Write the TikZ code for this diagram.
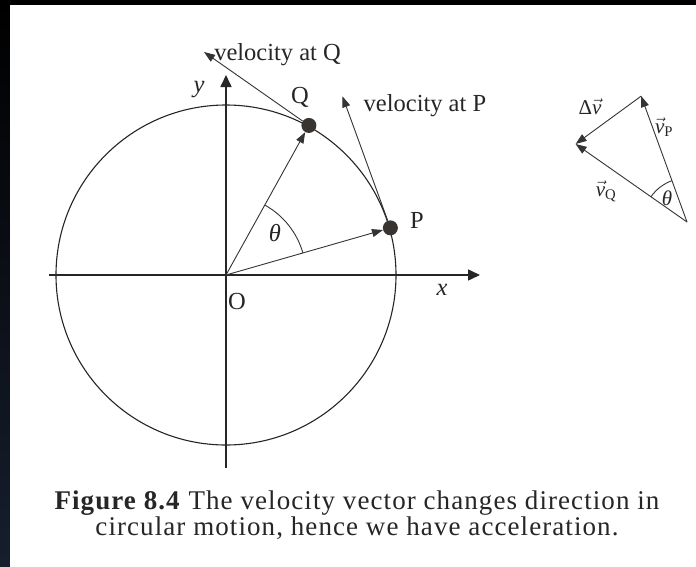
\documentclass[tikz,border=0pt]{standalone}
\usepackage{fontspec}
\setmainfont{Liberation Serif}
\usepackage{amsmath}
\definecolor{Inkgray}{RGB}{52,52,52}
\definecolor{Dotcolor}{RGB}{58,52,48}
\definecolor{Framenavy}{RGB}{22,30,45}
\usetikzlibrary{arrows.meta, positioning}

\begin{document}
\begin{tikzpicture}[
  x=1pt, y=1pt,
  font=\fontsize{24.5}{26}\selectfont,
  axis/.style={-{Triangle[length=12pt, width=11pt]}, line width=1.6pt, draw=black!85},
  vec/.style={-{Triangle[length=11pt, width=8pt]}, line width=0.9pt, draw=Inkgray},
  dot/.style={circle, fill=Dotcolor, inner sep=0pt, minimum size=15pt},
  lbl/.style={inner sep=1pt, text=black!85},
  small/.style={inner sep=1pt, text=black!85, font=\fontsize{21}{22}\selectfont},
  figcap/.style={inner sep=0pt, text=black!85,
              font=\fontsize{27}{26}\selectfont\addfontfeature{LetterSpace=4}}
]

%% ——— Fondo ———
\useasboundingbox (-226,-291) rectangle (470,275);
\fill[white] (-226,-291) rectangle (470,275);
\fill[black] (-226,270) rectangle (470,275);
\shade[top color=black, bottom color=Framenavy] (-226,-291) rectangle (-216,275);

%% ——— Circulo y ejes ———
\coordinate (O) at (0,0);
\draw[line width=1.1pt, black!85] (O) circle[radius=170pt];

\coordinate (xl) at (-177,0);
\coordinate (xr) at (254,0);
\coordinate (yb) at (0,-193);
\coordinate (yt) at (0,200);
\draw[axis] (xl) -- (xr);
\draw[axis] (yb) -- (yt);

%% ——— Puntos P y Q ———
\node[dot] (P) at (16:171pt) {};
\node[dot] (Q) at (61:171pt) {};

\draw[vec] (O) -- (P);
\draw[vec] (O) -- (Q);
\draw[line width=0.9pt, Inkgray] (16:80pt) arc[start angle=16, end angle=61, radius=80pt];

%% Velocidades
\path (P) ++(110:140pt) coordinate (vptip);
\path (Q) ++(145:128pt) coordinate (vqtip);
\draw[vec] (P) -- (vptip);
\draw[vec] (Q) -- (vqtip);

\node[lbl, anchor=west] (vplbl) at ([xshift=20pt, yshift=-9pt]vptip) {velocity at P};
\node[lbl, anchor=west] (vqlbl) at ([xshift=9pt, yshift=-3pt]vqtip) {velocity at Q};

\node[lbl] (Qlbl) at (74,178) {Q};
\node[lbl] (Plbl) at (191,55) {P};
\node[lbl] (Olbl) at (11,-27) {O};
\node[lbl] (ylbl) at (-27,185) {\textit{y}};
\node[lbl] (xlbl) at (216,-15) {\textit{x}};
\node[lbl] (th1) at (49,42) {\textit{θ}};

%% ——— Triangulo de velocidades ———
\coordinate (V) at (461,53);
\path (V) ++(110:134pt) coordinate (T);
\path (V) ++(145:136pt) coordinate (L);
\draw[vec] (V) -- (T);
\draw[vec] (V) -- (L);
\draw[vec] (T) -- (L);
\draw[line width=0.9pt, Inkgray] ([shift={(110:44pt)}]V) arc[start angle=110, end angle=145, radius=44pt];

\node[small] (dvlbl) at (364,168) {Δ$\vec{\textit{v}}$};
\node[small] (vPlbl) at (438,148) {$\vec{\textit{v}}_{\text{P}}$};
\node[small] (vQlbl) at (380,84) {$\vec{\textit{v}}_{\text{Q}}$};
\node[small] (th2) at (441,77) {\textit{θ}};

%% ——— Pie de figura ———
\node[figcap, anchor=base] (cap1) at (131,-234)
  {\textbf{Figure 8.4} The velocity vector changes direction in};
\node[figcap, anchor=base] (cap2) at ([yshift=-26pt]cap1.base)
  {circular motion, hence we have acceleration.};

\end{tikzpicture}
\end{document}
